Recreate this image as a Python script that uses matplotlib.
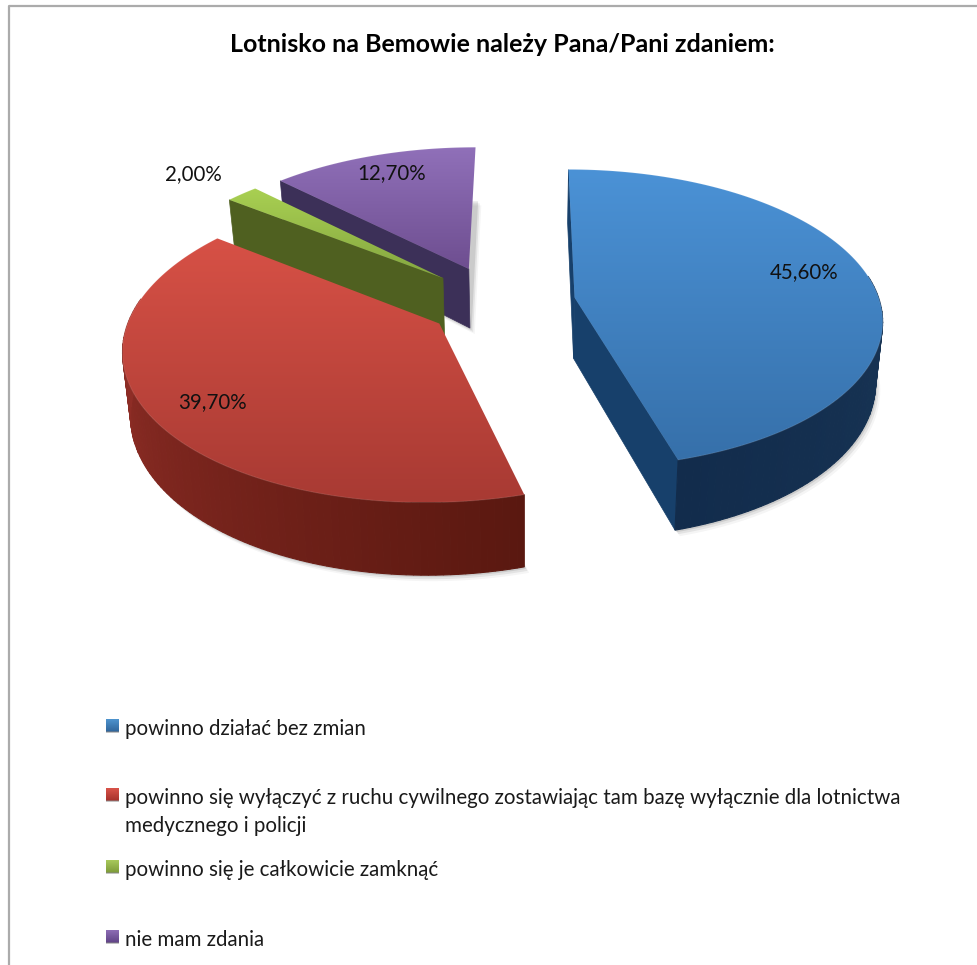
import numpy as np
import matplotlib
matplotlib.use("Agg")
import matplotlib.pyplot as plt
from matplotlib.colors import LinearSegmentedColormap, to_rgb
from matplotlib.patches import Polygon, Rectangle

plt.rcParams['font.family'] = ['Lato', 'DejaVu Sans']

title = 'Lotnisko na Bemowie należy Pana/Pani zdaniem:'
shares = [45.6, 39.7, 2.0, 12.7]
value_labels = ['45,60%', '39,70%', '2,00%', '12,70%']
categories = ['powinno działać bez zmian',
              'powinno się wyłączyć z ruchu cywilnego zostawiając tam bazę wyłącznie dla lotnictwa\nmedycznego i policji',
              'powinno się je całkowicie zamknąć',
              'nie mam zdania']

# explode offsets on the pie plane (unit = radius)
offsets = [(0.163, 0.023), (-0.275, -0.15), (-0.275, 0.159), (-0.19, 0.225)]
top_colors = [('#4b92d6', '#3670aa'), ('#d75146', '#a83a33'), ('#a9d052', '#84a640'), ('#9070b9', '#6e4e90')]
side_colors = [('#1f3f60', '#122c4c'), ('#5a1810', '#a5362f'), ('#4e6020', '#4e6020'), ('#3c3058', '#3c3058')]
face_colors = ['#17406b', '#5a1810', '#4f6020', '#3c3058']
cut_faces = [(0, -1), (), (0,), (0,)]
label_pos = [(804, 272), (212, 402), (193, 174), (392, 173)]
legend_y = [728, 797, 869, 939]
legend_colors = [('#4f94cf', '#2f6499'), ('#d9534a', '#a5302a'), ('#a9c95c', '#7c9a38'), ('#8d6db5', '#5f4285')]

# camera of the fake 3D pie, in pixels
cx, cy = 525, 301
rx, ry = 305, 147
persp = 0.14
depth = 61


def project(theta, radius, off):
    u = radius * np.sin(theta) + off[0]
    v = radius * np.cos(theta) + off[1]
    w = 1 + persp * v
    return cx + rx * u / w, cy - ry * v / w, w


def lower(x, y, w):
    return cx + (x - cx) * 0.98, y + depth / w


def mix(c1, c2, t):
    return tuple(np.array(to_rgb(c1)) * (1 - t) + np.array(to_rgb(c2)) * t)


fig = plt.figure(figsize=(9.77, 9.65), dpi=100)
ax = fig.add_axes([0, 0, 1, 1])
ax.set_xlim(0, 977)
ax.set_ylim(965, 0)
ax.axis('off')

# frame of the pasted chart
ax.plot([9, 9, 977], [965, 6, 6], color='#ababab', lw=1.6, zorder=1)


def gradient_fill(poly_xy, c1, c2, z):
    cmap = LinearSegmentedColormap.from_list('g', [c1, c2])
    xs, ys = poly_xy[:, 0], poly_xy[:, 1]
    img = ax.imshow(np.linspace(0, 1, 256).reshape(-1, 1), cmap=cmap, aspect='auto', origin='upper',
                    extent=(xs.min(), xs.max(), ys.max(), ys.min()), zorder=z,
                    interpolation='bilinear')
    clip = Polygon(poly_xy, closed=True, transform=ax.transData, fc='none', ec='none')
    ax.add_patch(clip)
    img.set_clip_path(clip)


bounds = np.concatenate([[0], np.cumsum(shares)]) / sum(shares) * 2 * np.pi

# back slices first, the blue one is nearest
order = [3, 2, 1, 0]
z = 2
for i in order:
    th = np.linspace(bounds[i], bounds[i + 1], 120)
    x, y, w = project(th, 1.0, offsets[i])
    x0, y0, w0 = project(0.0, 0.0, offsets[i])
    xb, yb = lower(x, y, w)
    x0b, y0b = lower(x0, y0, w0)

    # soft shadow
    low = np.column_stack([np.r_[x0b, xb], np.r_[y0b, yb]])
    for d, a in [(2, 0.10), (4, 0.07), (6, 0.04)]:
        ax.add_patch(Polygon(low + [d * 0.8, d], closed=True, fc='#000000', ec='none', alpha=a, zorder=z))
    z += 1

    # cut faces
    for k in cut_faces[i]:
        quad = [(x0, y0), (x[k], y[k]), (xb[k], yb[k]), (x0b, y0b)]
        ax.add_patch(Polygon(quad, closed=True, fc=face_colors[i], ec=face_colors[i], lw=0.5, zorder=z))
    z += 1

    # outer wall in thin strips, only the part turned to the viewer
    for k in range(len(th) - 1):
        if np.cos(th[k]) > 0.15:
            continue
        col = mix(side_colors[i][0], side_colors[i][1], k / (len(th) - 2))
        quad = [(x[k], y[k]), (x[k + 1], y[k + 1]), (xb[k + 1], yb[k + 1]), (xb[k], yb[k])]
        ax.add_patch(Polygon(quad, closed=True, fc=col, ec=col, lw=0.8, zorder=z))
    z += 1

    # top surface
    top = np.column_stack([np.r_[x0, x], np.r_[y0, y]])
    gradient_fill(top, top_colors[i][0], top_colors[i][1], z)
    z += 1
    ax.plot(x, y, color='white', alpha=0.10, lw=0.8, zorder=z)
    z += 1

for (lx, ly), txt in zip(label_pos, value_labels):
    ax.text(lx, ly, txt, ha='center', va='center', fontsize=14.8, color='#111111', zorder=z)

ax.text(502, 44, title, ha='center', va='center', fontsize=18, fontweight='bold', color='black')

# legend, spacing is uneven in the original so placed by hand
for ypos, txt, cols in zip(legend_y, categories, legend_colors):
    square = np.array([(106, ypos - 9), (119, ypos - 9), (119, ypos + 4), (106, ypos + 4)])
    gradient_fill(square, cols[0], cols[1], z)
    ax.add_patch(Rectangle((106, ypos + 3), 13, 1.5, fc='#888888', ec='none', alpha=0.5, zorder=z + 1))
    ax.text(125, ypos - 9, txt, ha='left', va='top', fontsize=14.8, color='#1a1a1a',
            linespacing=1.47, zorder=z + 1)

ax.set_xlim(0, 977)
ax.set_ylim(965, 0)
fig.savefig('out.png', dpi=100)
